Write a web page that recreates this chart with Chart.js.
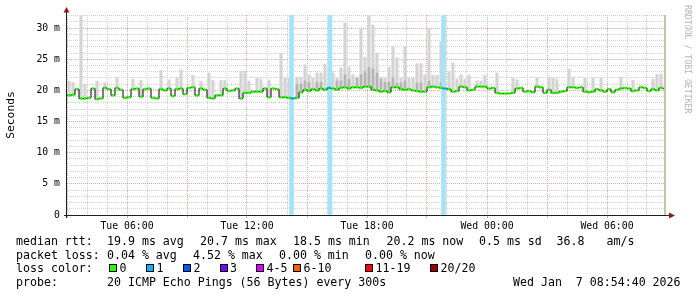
<!DOCTYPE html>
<html>
<head>
<meta charset="utf-8">
<script src="https://cdn.jsdelivr.net/npm/chart.js@4.4.1/dist/chart.umd.min.js"></script>
<style>
html, body { margin: 0; padding: 0; background: #fff; }
#wrap { position: relative; width: 697px; height: 297px; overflow: hidden;
        font-family: 'DejaVu Sans Mono', monospace; font-size: 11.6px; color: #000; }
#wrap canvas { position: absolute; left: 0; top: 0; }
.t { position: absolute; white-space: pre; line-height: 14px; }
.box { position: absolute; width: 6px; height: 6px; border: 1px solid #000; top: 264px; }
#mark { position: absolute; left: 683px; top: 5px; writing-mode: vertical-rl;
        font-size: 8.2px; line-height: 10px; color: #b4b4b4; white-space: pre; }
</style>
</head>
<body>
<div id="wrap">
  <canvas id="smoke" width="697" height="297"></canvas>
  <div id="mark">RRDTOOL / TOBI OETIKER</div>
  <div id="legend"></div>
</div>
<script>
// 12 minute samples starting Tue 03:00 (hours since Tue 00:00)
const startHour = 3;
const stepHour = 0.2;
const endHour = 32.95;

// median rtt per sample (ms)
const median = [
  19.2, 19.3, 20.2, 18.7, 18.7, 18.8, 20.3, 18.6, 18.7, 20.4, 20.2, 19.2, 20.4, 20.1, 18.8,
  18.9, 20.2, 20.3, 19.0, 20.2, 20.3, 18.8, 18.7, 20.2, 20.0, 20.3, 19.1, 20.2, 20.3, 19.4,
  20.4, 20.5, 19.2, 20.3, 20.1, 18.8, 18.7, 19.2, 19.2, 20.3, 19.9, 20.0, 20.3, 18.7, 19.6,
  19.6, 19.8, 19.8, 19.8, 20.3, 18.9, 20.3, 20.2, 18.9, 18.9, 18.8, 18.7, 18.8, 19.7, 20.1,
  19.9, 20.2, 20.0, 20.3, 20.1, 20.4, 20.3, 20.1, 20.4, 20.5, 20.3, 20.5, 20.5, 20.4, 20.6,
  20.6, 20.1, 20.0, 19.8, 19.9, 19.7, 20.5, 20.5, 20.2, 20.1, 20.2, 20.0, 19.9, 19.8, 19.8,
  20.5, 20.6, 20.5, 20.4, 20.3, 20.2, 19.8, 19.9, 20.6, 20.5, 20.0, 20.1, 20.6, 20.6, 20.6,
  20.3, 20.4, 19.6, 19.5, 19.5, 19.5, 19.6, 20.3, 20.4, 19.8, 19.9, 19.7, 20.6, 20.5, 19.6,
  20.1, 19.6, 19.6, 19.8, 19.9, 20.5, 20.5, 20.4, 20.5, 19.8, 19.7, 19.8, 20.2, 20.0, 19.8,
  20.2, 19.7, 20.1, 20.3, 20.4, 20.3, 19.9, 20.0, 20.5, 20.4, 19.9, 20.2, 20.0, 20.4, 20.3
];

// highest ping per sample (ms), null where the smoke hides behind the median
const smokeHi = [
  21.5, 21.3, null, 32.0, 21.0, null, null, 21.5, null, 21.2, null, null, 22.0, null, null,
  null, 21.8, null, 21.6, null, null, null, null, 23.2, null, 21.7, null, 22.1, 23.3, null,
  null, 22.4, null, 21.4, null, 22.8, 21.6, null, 21.6, 21.6, null, null, null, 23.1, 23.1,
  21.5, null, 22.0, 21.8, null, 21.6, null, null, 26.0, 22.0, 22.0, null, 22.1, 22.1, 24.1,
  22.5, 22.0, 22.8, 22.8, 24.2, null, 22.8, 22.0, 23.6, 30.8, 23.7, 22.5, 22.0, 30.0, 25.3,
  32.0, 30.5, 26.0, 22.1, 22.1, 23.7, 27.0, 25.2, 22.0, 27.0, 22.0, 22.0, 24.3, 24.3, 22.5,
  30.0, 22.4, 22.4, 27.8, null, 23.0, 24.4, 21.8, 22.5, 21.8, 22.4, null, 21.5, 21.5, 22.4,
  null, null, 22.8, null, null, null, 22.0, 21.7, null, null, null, null, 22.0, null, null,
  22.1, 22.0, 21.8, null, null, 23.4, 22.1, null, null, 22.0, null, 22.0, null, 22.0, null,
  null, null, null, 22.1, null, null, 21.6, null, null, null, null, 21.8, 22.6, 22.6, null
];

// denser inner smoke (ms)
const smokeInner = [
  null, null, null, null, null, null, null, null, null, null, null, null, null, null, null,
  null, null, null, null, null, null, null, null, null, null, null, null, null, null, null,
  null, null, null, null, null, null, null, null, null, null, null, null, null, null, null,
  null, null, null, null, null, null, null, null, null, null, null, null, 21.0, 21.0, 21.5,
  21.3, null, 21.3, 21.3, null, null, null, 21.5, 21.5, 22.5, 21.8, null, 22.0, 22.5, 23.0,
  23.7, 23.5, 22.8, 21.8, 21.3, 21.3, 22.0, 21.2, 21.2, 21.5, null, null, 21.2, 21.2, null,
  21.5, null, null, 21.3, null, null, null, null, null, null, null, null, null, null, null,
  null, null, null, null, null, null, null, null, null, null, null, null, null, null, null,
  null, null, null, null, null, null, null, null, null, null, null, null, null, null, null,
  null, null, null, null, null, null, null, null, null, null, null, null, null, null, null
];

// samples with 1/20 packet loss (hours)
const lossTimes = [14.225, 16.15, 21.825];

const yMax = 32.1;

const rttStats = ['19.9 ms avg', '20.7 ms max', '18.5 ms min', '20.2 ms now', '0.5 ms sd', '36.8', 'am/s'];
const lossStats = ['0.04 % avg', '4.52 % max', '0.00 % min', '0.00 % now'];
const lossLabels = ['0', '1', '2', '3', '4-5', '6-10', '11-19', '20/20'];
const lossColors = ['#26ff00', '#00b8ff', '#0059ff', '#7e00ff', '#dd00ff', '#ff5e00', '#ff0000', '#a10000'];
const probeText = '20 ICMP Echo Pings (56 Bytes) every 300s';
const stamp = 'Wed Jan  7 08:54:40 2026';

const times = median.map((_, i) => startHour + i * stepHour);
const hasLoss = i => lossTimes.some(t => t >= times[i] && t < times[i] + stepHour);

const grid = '#d2d2d2';
const mgrid = 'rgba(222,79,79,0.5)';
const tickFont = { family: 'DejaVu Sans Mono', size: 9.8 };

const axesDecor = {
  id: 'axesDecor',
  afterDraw(chart) {
    const { ctx, chartArea: a } = chart;
    ctx.save();
    ctx.strokeStyle = '#c8c2a6';
    ctx.lineWidth = 2;
    ctx.beginPath();
    ctx.moveTo(a.right - 1, a.top);
    ctx.lineTo(a.right - 1, a.bottom);
    ctx.stroke();
    ctx.strokeStyle = '#202020';
    ctx.lineWidth = 1;
    ctx.beginPath();
    ctx.moveTo(a.left - 3, a.bottom + 0.5);
    ctx.lineTo(a.right + 4, a.bottom + 0.5);
    ctx.moveTo(a.left - 0.5, a.bottom + 3);
    ctx.lineTo(a.left - 0.5, a.top - 4);
    ctx.stroke();
    ctx.fillStyle = '#8e1b1b';
    ctx.beginPath();
    ctx.moveTo(a.left - 0.5, a.top - 8);
    ctx.lineTo(a.left - 3.5, a.top - 2.5);
    ctx.lineTo(a.left + 2.5, a.top - 2.5);
    ctx.closePath();
    ctx.moveTo(a.right + 9, a.bottom + 0.5);
    ctx.lineTo(a.right + 3, a.bottom - 2.5);
    ctx.lineTo(a.right + 3, a.bottom + 3.5);
    ctx.closePath();
    ctx.fill();
    ctx.restore();
  }
};

new Chart(document.getElementById('smoke'), {
  type: 'bar',
  data: {
    datasets: [
      {
        type: 'line',
        order: 0,
        data: median.map((v, i) => ({ x: times[i] + stepHour / 2, y: v })),
        showLine: false,
        pointStyle: 'line',
        pointRadius: 1.5,
        pointHoverRadius: 1.5,
        pointBorderWidth: 2.5,
        pointBorderColor: median.map((v, i) => hasLoss(i) ? lossColors[1] : lossColors[0])
      },
      {
        type: 'line',
        order: 1,
        data: median.map((v, i) => ({ x: times[i], y: v }))
          .concat([{ x: startHour + median.length * stepHour, y: median[median.length - 1] }]),
        stepped: true,
        borderColor: '#000',
        borderWidth: 1,
        pointRadius: 0
      },
      {
        order: 2,
        data: lossTimes.map(t => ({ x: t, y: [0, yMax] })),
        backgroundColor: '#a6e2f8',
        barThickness: 4,
        grouped: false
      },
      {
        order: 3,
        data: smokeInner.map((v, i) => v == null ? null : { x: times[i] + stepHour / 2, y: [median[i], v] })
          .filter(d => d),
        backgroundColor: '#b4b4b4',
        barThickness: 2,
        grouped: false
      },
      {
        order: 4,
        data: smokeHi.map((v, i) => v == null ? null : { x: times[i] + stepHour / 2, y: [median[i], v] })
          .filter(d => d),
        backgroundColor: '#d4d4d4',
        barThickness: 2.5,
        grouped: false
      }
    ]
  },
  options: {
    responsive: false,
    animation: false,
    devicePixelRatio: 1,
    layout: { padding: { left: 0, right: 31, top: 15, bottom: 62 } },
    plugins: { legend: { display: false }, tooltip: { enabled: false } },
    scales: {
      x: {
        type: 'linear',
        min: startHour,
        max: endHour,
        offset: false,
        afterFit: s => { s.height = 20; },
        grid: {
          offset: false,
          color: c => Math.round(c.tick.value) % 3 === 0 ? mgrid : grid,
          tickColor: c => Math.round(c.tick.value) % 3 === 0 ? mgrid : 'rgba(0,0,0,0)',
          tickLength: 3,
          borderDash: [1, 1]
        },
        border: { display: false, dash: [1, 1] },
        ticks: {
          stepSize: 1,
          autoSkip: false,
          includeBounds: false,
          maxRotation: 0,
          padding: 3,
          color: '#000',
          font: tickFont,
          callback: v => {
            const h = Math.round(v);
            if (h % 6 !== 0) return '';
            const day = h < 24 ? 'Tue' : 'Wed';
            return day + ' ' + String(h % 24).padStart(2, '0') + ':00';
          }
        }
      },
      y: {
        min: 0,
        max: yMax,
        afterFit: s => { s.width = 67; },
        grid: {
          color: c => Math.round(c.tick.value) % 5 === 0 ? mgrid : grid,
          drawTicks: false,
          borderDash: [1, 1]
        },
        border: { display: false, dash: [1, 1] },
        ticks: {
          stepSize: 1,
          autoSkip: false,
          includeBounds: false,
          padding: 7,
          color: '#000',
          font: tickFont,
          callback: v => {
            const m = Math.round(v);
            if (m % 5 !== 0) return '';
            return m === 0 ? '0' : m + ' m';
          }
        },
        title: {
          display: true,
          text: 'Seconds',
          color: '#000',
          font: { family: 'DejaVu Sans Mono', size: 11.3 }
        }
      }
    }
  },
  plugins: [axesDecor]
});

// legend rows below the graph
const legend = document.getElementById('legend');
function put(text, left, top) {
  const d = document.createElement('div');
  d.className = 't';
  d.textContent = text;
  d.style.left = left + 'px';
  d.style.top = top + 'px';
  legend.appendChild(d);
}
put('median rtt:', 16, 234);
[107, 200, 293, 386.5, 479, 556.5, 606.5].forEach((x, i) => put(rttStats[i], x, 234));
put('packet loss:', 16, 248);
[107, 193, 279, 365].forEach((x, i) => put(lossStats[i], x, 248));
put('loss color:', 16, 261);
[109, 146, 183, 219.5, 256, 293, 365, 430].forEach((x, i) => {
  const b = document.createElement('div');
  b.className = 'box';
  b.style.left = x + 'px';
  b.style.background = lossColors[i];
  legend.appendChild(b);
  put(lossLabels[i], x + 10.5, 261);
});
put('probe:', 16, 275);
put(probeText, 107, 275);
put(stamp, 513, 275);
</script>
</body>
</html>
